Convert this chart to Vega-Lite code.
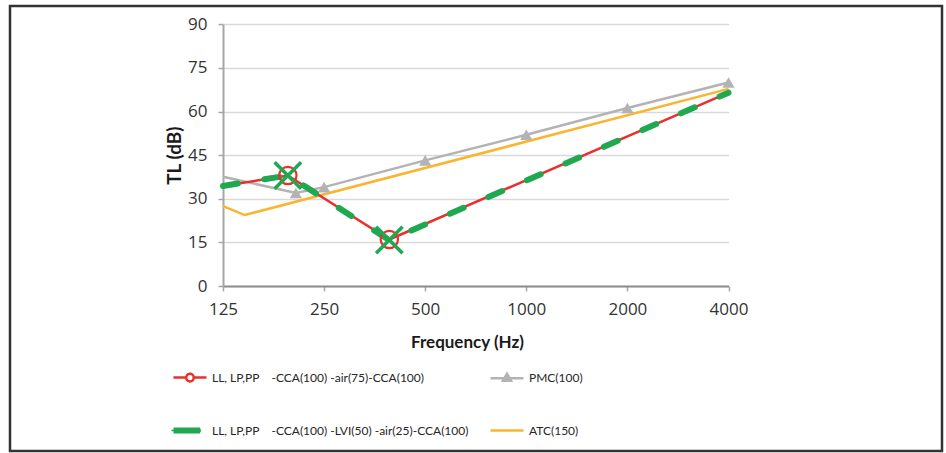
{
  "$schema": "https://vega.github.io/schema/vega-lite/v6.json",
  "width": 932,
  "height": 445,
  "padding": {"left": 10, "top": 6, "right": 4, "bottom": 2},
  "background": "white",
  "config": {
    "view": {"stroke": "#333333", "strokeWidth": 2.5},
    "font": "Lato"
  },
  "datasets": {
    "tl": [
      {"series": "LL, LP,PP\u00a0\u00a0\u00a0\u00a0-CCA(100) -air(75)-CCA(100)", "f": 125, "tl": 34.4},
      {"series": "LL, LP,PP\u00a0\u00a0\u00a0\u00a0-CCA(100) -air(75)-CCA(100)", "f": 195, "tl": 38.0},
      {"series": "LL, LP,PP\u00a0\u00a0\u00a0\u00a0-CCA(100) -air(75)-CCA(100)", "f": 391, "tl": 16.0},
      {"series": "LL, LP,PP\u00a0\u00a0\u00a0\u00a0-CCA(100) -air(75)-CCA(100)", "f": 4000, "tl": 66.5},
      {"series": "PMC(100)", "f": 125, "tl": 37.6},
      {"series": "PMC(100)", "f": 206, "tl": 32.0},
      {"series": "PMC(100)", "f": 250, "tl": 34.0},
      {"series": "PMC(100)", "f": 500, "tl": 43.2},
      {"series": "PMC(100)", "f": 1000, "tl": 52.0},
      {"series": "PMC(100)", "f": 2000, "tl": 61.2},
      {"series": "PMC(100)", "f": 4000, "tl": 70.0},
      {"series": "LL, LP,PP\u00a0\u00a0\u00a0\u00a0-CCA(100) -LVI(50) -air(25)-CCA(100)", "f": 125, "tl": 34.4},
      {"series": "LL, LP,PP\u00a0\u00a0\u00a0\u00a0-CCA(100) -LVI(50) -air(25)-CCA(100)", "f": 195, "tl": 38.0},
      {"series": "LL, LP,PP\u00a0\u00a0\u00a0\u00a0-CCA(100) -LVI(50) -air(25)-CCA(100)", "f": 391, "tl": 15.8},
      {"series": "LL, LP,PP\u00a0\u00a0\u00a0\u00a0-CCA(100) -LVI(50) -air(25)-CCA(100)", "f": 4000, "tl": 66.5},
      {"series": "ATC(150)", "f": 125, "tl": 27.5},
      {"series": "ATC(150)", "f": 145, "tl": 24.4},
      {"series": "ATC(150)", "f": 4000, "tl": 67.8}
    ]
  },
  "data": {"name": "tl"},
  "encoding": {
    "x": {
      "field": "f", "type": "quantitative",
      "scale": {"type": "log", "domain": [125, 4000], "range": [213, 718.5], "nice": false, "zero": false},
      "axis": {
        "orient": "bottom", "offset": -165,
        "values": [125, 250, 500, 1000, 2000, 4000], "format": "d",
        "grid": false,
        "domainColor": "#8c8c8c", "domainWidth": 2,
        "tickColor": "#a6a6a6", "tickSize": 5, "tickWidth": 1.5,
        "labelFont": "Open Sans", "labelFontSize": 17, "labelColor": "#333333", "labelPadding": 10,
        "labelFlush": false, "labelOverlap": false,
        "title": "Frequency (Hz)", "titleFont": "Lato", "titleFontWeight": "bold", "titleFontSize": 17,
        "titleColor": "#1a1a1a", "titlePadding": 17, "titleX": 457
      }
    },
    "y": {
      "field": "tl", "type": "quantitative",
      "scale": {"domain": [0, 90], "range": [280, 18.3], "nice": false, "zero": true},
      "axis": {
        "orient": "left", "offset": -213,
        "values": [0, 15, 30, 45, 60, 75, 90],
        "grid": true, "gridColor": "#d9d9d9", "gridWidth": 1.5,
        "domainColor": "#a6a6a6", "domainWidth": 2,
        "tickColor": "#a6a6a6", "tickSize": 5, "tickWidth": 1.5,
        "labelFont": "Open Sans", "labelFontSize": 17, "labelColor": "#333333", "labelPadding": 11,
        "labelFlush": false, "labelOverlap": false,
        "title": "TL (dB)", "titleFont": "Lato", "titleFontWeight": "bold", "titleFontSize": 19,
        "titleColor": "#1a1a1a", "titlePadding": 3
      }
    }
  },
  "layer": [
    {
      "data": {"values": [{}]},
      "mark": {"type": "rule", "color": "#595959", "strokeWidth": 2},
      "encoding": {"x": {"datum": 125}, "x2": {"datum": 4000}, "y": {"datum": 90}}
    },
    {
      "data": {"values": [{}]},
      "mark": {"type": "rule", "color": "#262626", "strokeWidth": 2},
      "encoding": {"x": {"datum": 4000}, "y": {"datum": 0}, "y2": {"datum": 90}}
    },
    {
      "transform": [{"filter": "datum.series === 'ATC(150)'"}],
      "mark": {"type": "line", "color": "#fbb430", "strokeWidth": 2.5}
    },
    {
      "transform": [{"filter": "datum.series === 'PMC(100)'"}],
      "mark": {"type": "line", "color": "#b3b3b3", "strokeWidth": 2.5}
    },
    {
      "transform": [{"filter": "datum.series === 'PMC(100)' && datum.f > 125"}],
      "mark": {"type": "point", "shape": "triangle-up", "filled": true, "color": "#b3b3b3", "size": 150, "opacity": 1}
    },
    {
      "transform": [{"filter": "datum.series === 'LL, LP,PP\u00a0\u00a0\u00a0\u00a0-CCA(100) -air(75)-CCA(100)'"}],
      "mark": {"type": "line", "color": "#e8302c", "strokeWidth": 2.5}
    },
    {
      "transform": [{"filter": "datum.series === 'LL, LP,PP\u00a0\u00a0\u00a0\u00a0-CCA(100) -LVI(50) -air(25)-CCA(100)'"}],
      "mark": {"type": "line", "color": "#1fa850", "strokeWidth": 6, "strokeDash": [15, 27], "strokeCap": "round"}
    },
    {
      "transform": [{"filter": "datum.series === 'LL, LP,PP\u00a0\u00a0\u00a0\u00a0-CCA(100) -air(75)-CCA(100)' && (datum.f === 195 || datum.f === 391)"}],
      "mark": {"type": "point", "shape": "circle", "filled": false, "color": "#e8302c", "strokeWidth": 2.2, "size": 300, "opacity": 1}
    },
    {
      "transform": [{"filter": "datum.series === 'LL, LP,PP\u00a0\u00a0\u00a0\u00a0-CCA(100) -LVI(50) -air(25)-CCA(100)' && (datum.f === 195 || datum.f === 391)"}],
      "mark": {"type": "point", "shape": "M-1,-1L1,1M-1,1L1,-1", "filled": false, "color": "#1fa850", "strokeWidth": 3.5, "size": 700, "opacity": 1}
    },
    {
      "transform": [{"filter": "false"}],
      "mark": {"type": "point", "filled": false, "opacity": 1},
      "encoding": {
        "x": {"field": "f", "type": "quantitative"},
        "y": {"field": "tl", "type": "quantitative"},
        "color": {
          "field": "series", "type": "nominal",
          "scale": {
            "domain": [
              "LL, LP,PP\u00a0\u00a0\u00a0\u00a0-CCA(100) -air(75)-CCA(100)",
              "LL, LP,PP\u00a0\u00a0\u00a0\u00a0-CCA(100) -LVI(50) -air(25)-CCA(100)",
              "PMC(100)",
              "ATC(150)"
            ],
            "range": ["#e8302c", "#1fa850", "#b3b3b3", "#fbb430"]
          },
          "legend": {
            "title": null, "orient": "none", "legendX": 162, "legendY": 353.5,
            "columns": 2, "columnPadding": 16, "rowPadding": 26, "padding": 0,
            "symbolSize": 1089, "symbolStrokeWidth": 2.5, "symbolOpacity": 1,
            "labelFont": "Lato", "labelFontSize": 12, "labelColor": "#262626", "labelOffset": 4, "labelLimit": 400
          }
        },
        "shape": {
          "field": "series", "type": "nominal",
          "scale": {
            "domain": [
              "LL, LP,PP\u00a0\u00a0\u00a0\u00a0-CCA(100) -air(75)-CCA(100)",
              "LL, LP,PP\u00a0\u00a0\u00a0\u00a0-CCA(100) -LVI(50) -air(25)-CCA(100)",
              "PMC(100)",
              "ATC(150)"
            ],
            "range": [
              "M-1,0H-0.23M0.23,0H1M-0.23,0A0.23,0.23 0 1,0 0.23,0A0.23,0.23 0 1,0 -0.23,0",
              "M-1,-0.1H0.62M-1,0H0.66M-1,0.1H0.62M-1.05,-0.05V0.05",
              "M-1,0H1M-0.24,0.14L0,-0.28L0.24,0.14ZM-0.12,0.07L0,-0.14L0.12,0.07Z",
              "M-1,0H1"
            ]
          },
          "legend": {
            "title": null, "orient": "none", "legendX": 162, "legendY": 353.5,
            "columns": 2, "columnPadding": 16, "rowPadding": 26, "padding": 0,
            "symbolSize": 1089, "symbolStrokeWidth": 2.5, "symbolOpacity": 1,
            "labelFont": "Lato", "labelFontSize": 12, "labelColor": "#262626", "labelOffset": 4, "labelLimit": 400
          }
        }
      }
    }
  ]
}
